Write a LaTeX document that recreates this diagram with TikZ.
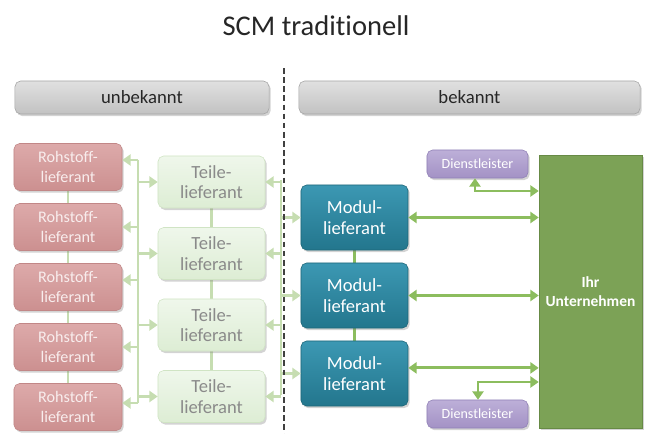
\documentclass[tikz,border=0pt]{standalone}
\usepackage{fontspec}
\setmainfont{Carlito}[Ligatures=NoCommon]
\usetikzlibrary{arrows.meta,shadows,backgrounds}

\definecolor{rohtop}{HTML}{DDAAAA}
\definecolor{rohbot}{HTML}{CC9090}
\definecolor{rohline}{HTML}{C28787}
\definecolor{rohtext}{HTML}{F8EDED}
\definecolor{teiltop}{HTML}{EFF7EB}
\definecolor{teilbot}{HTML}{DDEDD4}
\definecolor{teilline}{HTML}{D0E4C4}
\definecolor{teiltext}{HTML}{8A8A8A}
\definecolor{modtop}{HTML}{3C98B3}
\definecolor{modbot}{HTML}{23768D}
\definecolor{modline}{HTML}{1E6678}
\definecolor{dieTop}{HTML}{BDAFD8}
\definecolor{dieBot}{HTML}{A392C5}
\definecolor{dieline}{HTML}{9080B6}
\definecolor{untfill}{HTML}{7CA256}
\definecolor{untline}{HTML}{678A45}
\definecolor{headtop}{HTML}{E0E0E0}
\definecolor{headbot}{HTML}{C2C2C2}
\definecolor{headline}{HTML}{A5A5A5}
\definecolor{palegreen}{HTML}{C6DDB1}
\definecolor{midgreen}{HTML}{8CBD5E}

\tikzset{
  box/.style={rounded corners=4pt, align=center, inner sep=0pt,
    drop shadow={shadow xshift=1.2pt, shadow yshift=-1.5pt, opacity=0.35}},
  rohbox/.style={box, draw=rohline, top color=rohtop, bottom color=rohbot, text=rohtext,
    minimum width=2.7cm, minimum height=1.175cm, font=\fontsize{11.5}{14}\selectfont},
  teilbox/.style={box, draw=teilline, top color=teiltop, bottom color=teilbot, text=teiltext,
    minimum width=2.675cm, minimum height=1.3cm, font=\fontsize{13.2}{14.5}\selectfont},
  modbox/.style={box, draw=modline, top color=modtop, bottom color=modbot, text=white,
    minimum width=2.675cm, minimum height=1.625cm, font=\fontsize{13.2}{15.4}\selectfont},
  diebox/.style={box, draw=dieline, top color=dieTop, bottom color=dieBot, text=white,
    minimum width=2.525cm, minimum height=0.7cm, font=\fontsize{10}{12}\selectfont},
  headbox/.style={box, draw=headline, top color=headtop, bottom color=headbot, text=black!85,
    minimum height=0.825cm, font=\fontsize{13.3}{15}\selectfont},
  pale/.style={draw=palegreen, line width=2pt},
  palearr/.style={pale, -{Triangle[length=6pt,width=8pt]}},
  darr/.style={draw=midgreen, line width=2pt,
    {Triangle[length=6pt,width=8pt]}-{Triangle[length=6pt,width=8pt]}},
}

\begin{document}
\begin{tikzpicture}[x=0.025cm,y=-0.025cm]
  \useasboundingbox (0,0) rectangle (647,434);

  % Title
  \node (title) at (316,26) [text=black!85, font=\fontsize{20.3}{24}\selectfont] {SCM traditionell};

  % Headers
  \node (unb) at (142,97.5) [headbox, minimum width=6.35cm] {unbekannt};
  \node (bek) at (469.5,97.5) [headbox, minimum width=8.525cm] {bekannt};

  % Separator
  \coordinate (septop) at (284,68);
  \coordinate (sepbot) at (284,434);

  % Suppliers
  \foreach \i/\y in {1/167,2/227,3/287,4/347,5/407}
    \node (r\i) at (68,\y) [rohbox] {Rohstoff-\\lieferant};
  \foreach \i/\y in {1/182,2/253.5,3/325,4/396.5}
    \node (t\i) at (211.5,\y) [teilbox] {Teile-\\lieferant};
  \foreach \i/\y in {1/217.5,2/295.5,3/373.5}
    \node (m\i) at (354.5,\y) [modbox] {Modul-\\lieferant};

  % Company and services
  \node (u) at (590.5,291.5) [draw=untline, fill=untfill, minimum width=2.575cm, minimum height=6.825cm,
    align=center, text=white, font=\bfseries\fontsize{11}{13}\selectfont,
    drop shadow={shadow xshift=1.2pt, shadow yshift=-1.5pt, opacity=0.35}] {Ihr\\Unternehmen};
  \node (d1) at (477.5,164) [diebox] {Dienstleister};
  \node (d2) at (477.5,414) [diebox] {Dienstleister};

  \begin{pgfonlayer}{background}
    \foreach \i/\j in {1/2,2/3,3/4,4/5}
      \draw[pale, xshift=-0.15cm] (r\i.south) -- (r\j.north);
    \foreach \i/\j in {1/2,2/3,3/4}
      \draw[pale] (t\i.south) -- (t\j.north);
    \foreach \i/\j in {1/2,2/3}
      \draw[draw=midgreen, line width=2pt] (m\i.south) -- (m\j.north);
  \end{pgfonlayer}

  % Left bus
  \coordinate (lbtop) at (138,160);
  \coordinate (lbbot) at (138,403);
  \draw[pale] (lbtop) -- (lbbot);
  \foreach \i/\y in {1/160,2/227,3/280,4/347,5/403} {
    \coordinate (lb\i) at (138,\y);
    \draw[palearr] (lb\i) -- (lb\i -| r\i.east);
  }
  \foreach \i in {1,...,4}
    \draw[palearr] (t\i.west -| lbtop) -- (t\i.west);

  % Right bus
  \coordinate (rbtop) at (281,180);
  \coordinate (rbbot) at (281,395);
  \draw[pale] (rbtop) -- (rbbot);
  \foreach \i in {1,...,4}
    \draw[palearr] (t\i.east -| rbtop) -- (t\i.east);
  \foreach \i in {1,...,3}
    \draw[palearr] (m\i.west -| rbtop) -- (m\i.west);

  \draw[black!75, line width=1.5pt, dash pattern=on 4pt off 2.5pt] (septop) -- (sepbot);

  % Links to company
  \draw[darr] (m1.east) -- (m1.east -| u.west);
  \draw[darr] (m2.east) -- (m2.east -| u.west);
  \draw[darr] ([yshift=0.14cm]m3.east) -- ([yshift=0.14cm]m3.east -| u.west);
  \coordinate (dtk) at (475,191);
  \draw[darr] (d1.south -| dtk) -- (dtk) -- (dtk -| u.west);
  \coordinate (dbk) at (478,382);
  \draw[darr] (u.west |- dbk) -- (dbk) -- (dbk |- d2.north);
\end{tikzpicture}
\end{document}
